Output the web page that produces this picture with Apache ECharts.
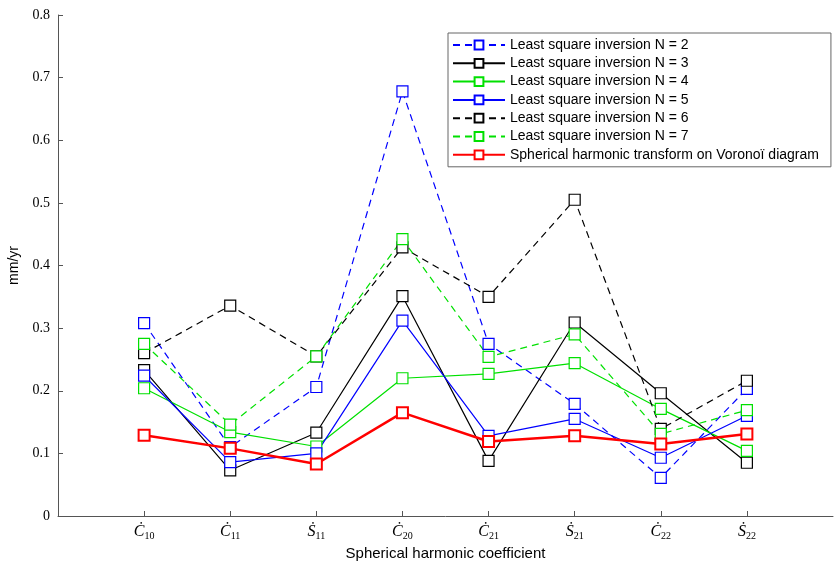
<!DOCTYPE html>
<html>
<head>
<meta charset="utf-8">
<script src="https://cdn.jsdelivr.net/npm/echarts@6/dist/echarts.min.js"></script>
<style>
  html, body { margin: 0; padding: 0; background: #fff; }
  #chart { width: 834px; height: 564px; }
</style>
</head>
<body>
<div id="chart"></div>
<script>
document.addEventListener('DOMContentLoaded', function() {

    // coefficient names: letter, subscript
    const coefLetters = ['C', 'C', 'S', 'C', 'C', 'S', 'C', 'S'];
    const coefSubs = ['10', '11', '11', '20', '21', '21', '22', '22'];
    const yTicks = [0, 0.1, 0.2, 0.3, 0.4, 0.5, 0.6, 0.7, 0.8];

    const n2 = [0.308, 0.110, 0.206, 0.678, 0.275, 0.179, 0.061, 0.203];
    const n3 = [0.233, 0.073, 0.133, 0.351, 0.088, 0.309, 0.196, 0.085];
    const n4 = [0.204, 0.134, 0.111, 0.220, 0.227, 0.244, 0.171, 0.104];
    const n5 = [0.224, 0.086, 0.100, 0.312, 0.128, 0.155, 0.093, 0.160];
    const n6 = [0.260, 0.336, 0.255, 0.429, 0.350, 0.505, 0.139, 0.216];
    const n7 = [0.275, 0.146, 0.255, 0.442, 0.254, 0.290, 0.131, 0.169];
    const voronoi = [0.129, 0.108, 0.083, 0.165, 0.119, 0.128, 0.115, 0.131];

    const positions = coefLetters.map((_, i) => i + 1);
    const pairs = vals => vals.map((v, i) => [positions[i], v]);

    const lineSeries = (name, vals, color, dashed, width) => ({
        name: name,
        type: 'line',
        data: pairs(vals),
        symbol: 'rect',
        symbolSize: 11,
        itemStyle: {
            color: '#fff',
            borderColor: color,
            borderWidth: width > 1.5 ? 2 : 1.2
        },
        lineStyle: {
            color: color,
            width: width,
            type: dashed ? [7, 5] : 'solid'
        },
        emphasis: { disabled: true },
        animation: false
    });

    const dotted = { C: '\u010A', S: '\u1E60' };

    const chart = echarts.init(document.getElementById('chart'));

    chart.setOption({
        animation: false,
        grid: {
            left: 58,
            right: 1,
            top: 15,
            bottom: 48,
            outerBoundsMode: 'none'
        },
        legend: {
            orient: 'vertical',
            left: 448,
            top: 33,
            itemWidth: 52,
            itemHeight: 11,
            itemGap: 4.3,
            padding: [5, 12, 5, 4],
            borderColor: '#666',
            borderWidth: 1,
            backgroundColor: '#fff',
            textStyle: {
                fontFamily: 'Liberation Sans',
                fontSize: 14,
                color: '#000',
                padding: [0, 0, 0, 0]
            }
        },
        xAxis: {
            type: 'value',
            min: 0,
            max: 9,
            interval: 1,
            name: 'Spherical harmonic coefficient',
            nameLocation: 'middle',
            nameGap: 28,
            nameTextStyle: {
                fontFamily: 'Liberation Sans',
                fontSize: 15,
                color: '#000'
            },
            splitLine: { show: false },
            axisLine: { lineStyle: { color: '#555', width: 1 } },
            axisTick: {
                inside: true,
                length: 5,
                customValues: positions,
                lineStyle: { color: '#555' }
            },
            axisLabel: {
                customValues: positions,
                margin: 6,
                formatter: function(v) {
                    const i = Math.round(v) - 1;
                    if (i < 0 || i >= coefLetters.length) return '';
                    return '{c|' + dotted[coefLetters[i]] + '}{s|' + coefSubs[i] + '}';
                },
                rich: {
                    c: {
                        fontFamily: 'Liberation Serif',
                        fontStyle: 'italic',
                        fontSize: 16,
                        color: '#000'
                    },
                    s: {
                        fontFamily: 'Liberation Serif',
                        fontSize: 10,
                        color: '#000',
                        padding: [9, 0, 0, 0]
                    }
                }
            }
        },
        yAxis: {
            type: 'value',
            min: 0,
            max: 0.8,
            interval: 0.1,
            name: 'mm/yr',
            nameLocation: 'middle',
            nameGap: 30,
            nameTextStyle: {
                fontFamily: 'Liberation Sans',
                fontSize: 14,
                color: '#000'
            },
            splitLine: { show: false },
            axisLine: { show: true, lineStyle: { color: '#555', width: 1 } },
            axisTick: {
                show: true,
                inside: true,
                length: 5,
                lineStyle: { color: '#555' }
            },
            axisLabel: {
                fontFamily: 'Liberation Serif',
                fontSize: 14,
                color: '#000',
                margin: 8,
                customValues: yTicks,
                formatter: v => (v === 0 ? '0' : v.toFixed(1))
            }
        },
        series: [
            lineSeries('Least square inversion N = 2', n2, '#0000ff', true, 1.2),
            lineSeries('Least square inversion N = 3', n3, '#000000', false, 1.2),
            lineSeries('Least square inversion N = 4', n4, '#00e000', false, 1.2),
            lineSeries('Least square inversion N = 5', n5, '#0000ff', false, 1.2),
            lineSeries('Least square inversion N = 6', n6, '#000000', true, 1.2),
            lineSeries('Least square inversion N = 7', n7, '#00e000', true, 1.2),
            lineSeries('Spherical harmonic transform on Vorono\u00EF diagram', voronoi, '#ff0000', false, 2.5)
        ]
    });
});
</script>
</body>
</html>
